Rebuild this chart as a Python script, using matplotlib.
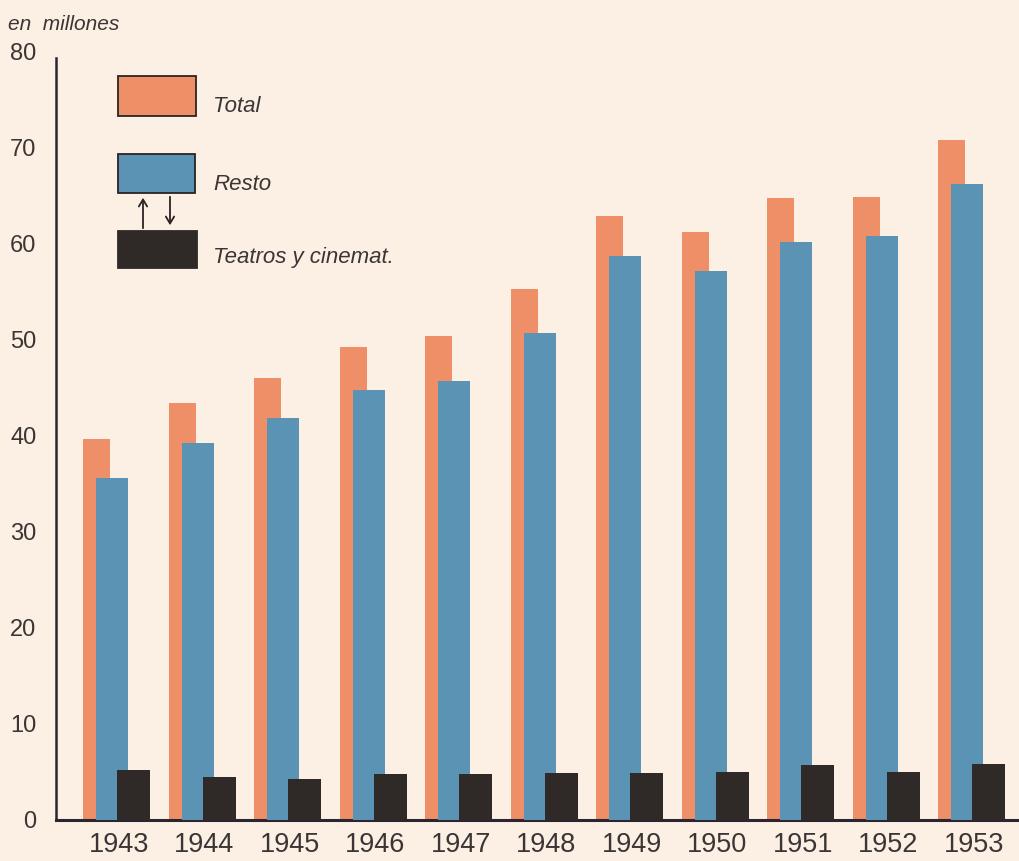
import matplotlib
matplotlib.use("Agg")
import matplotlib.pyplot as plt
from matplotlib.patches import Rectangle, FancyArrowPatch

years = ["1943", "1944", "1945", "1946", "1947", "1948", "1949", "1950", "1951", "1952", "1953"]
total = [39.7, 43.4, 46.0, 49.3, 50.4, 55.3, 62.9, 61.3, 64.8, 64.9, 70.8]
resto = [35.6, 39.3, 41.9, 44.8, 45.7, 50.7, 58.8, 57.2, 60.2, 60.8, 66.2]
teatros = [5.2, 4.5, 4.3, 4.8, 4.8, 4.9, 4.9, 5.0, 5.7, 5.0, 5.8]
yticks = [0, 10, 20, 30, 40, 50, 60, 70, 80]
legend_labels = ["Total", "Resto", "Teatros y cinemat."]

BG = "#fcefe3"
C_TOTAL = "#ee8f67"
C_RESTO = "#5b93b4"
C_TEATROS = "#2f2927"
TXT = "#3b3535"
AX = "#2a2530"

plt.rcParams["font.family"] = ["Liberation Sans", "DejaVu Sans"]

W, H = 1019, 861
fig = plt.figure(figsize=(W / 100, H / 100), dpi=100, facecolor=BG)
ax = fig.add_axes([56 / W, (H - 820) / H, (W - 56) / W, 768 / H])
ax.set_facecolor(BG)

x = list(range(len(years)))
ax.bar([i for i in x], total, width=0.32, align="edge", color=C_TOTAL, zorder=2)
ax.bar([i + 0.155 for i in x], resto, width=0.375, align="edge", color=C_RESTO, zorder=3)
ax.bar([i + 0.40 for i in x], teatros, width=0.385, align="edge", color=C_TEATROS, zorder=4)

ax.set_xlim(-0.316, 10.947)
ax.set_ylim(0, 80)
ax.set_yticks(yticks)
ax.set_yticklabels([str(v) for v in yticks], fontsize=17, color=TXT)
ax.set_xticks([i + 0.42 for i in x])
ax.set_xticklabels(years, fontsize=19.5, color=TXT)
ax.tick_params(axis="y", length=0, pad=14)
ax.tick_params(axis="x", length=0, pad=9)

for s in ["top", "right"]:
    ax.spines[s].set_visible(False)
ax.spines["left"].set_color(AX)
ax.spines["bottom"].set_color(AX)
ax.spines["left"].set_linewidth(1.8)
ax.spines["bottom"].set_linewidth(2.2)
ax.spines["left"].set_bounds(0, 79.4)

fig.text(8 / W, 1 - 25 / H, "en  millones", fontsize=15, style="italic",
         color=TXT, ha="left", va="center")

def px_rect(x0, y0, x1, y1, color, edge):
    r = Rectangle((x0 / W, 1 - y1 / H), (x1 - x0) / W, (y1 - y0) / H,
                  transform=fig.transFigure, facecolor=color,
                  edgecolor=edge, linewidth=1.3, zorder=5)
    fig.add_artist(r)

px_rect(118, 76, 196, 116, C_TOTAL, "#2a2424")
px_rect(118, 154, 195, 193, C_RESTO, "#2a2424")
px_rect(118, 231, 197, 268, C_TEATROS, C_TEATROS)

for label, yc in zip(legend_labels, [106, 185, 258]):
    fig.text(213 / W, 1 - yc / H, label, fontsize=16, style="italic",
             color=TXT, ha="left", va="center")

a1 = FancyArrowPatch((143 / W, 1 - 231 / H), (143 / W, 1 - 195 / H),
                     transform=fig.transFigure, arrowstyle="->,head_length=5,head_width=3",
                     color="#2a2424", lw=1.3, mutation_scale=1)
a2 = FancyArrowPatch((170 / W, 1 - 194 / H), (170 / W, 1 - 228 / H),
                     transform=fig.transFigure, arrowstyle="->,head_length=5,head_width=3",
                     color="#2a2424", lw=1.3, mutation_scale=1)
fig.add_artist(a1)
fig.add_artist(a2)

fig.savefig("out.png", dpi=100, facecolor=BG)
